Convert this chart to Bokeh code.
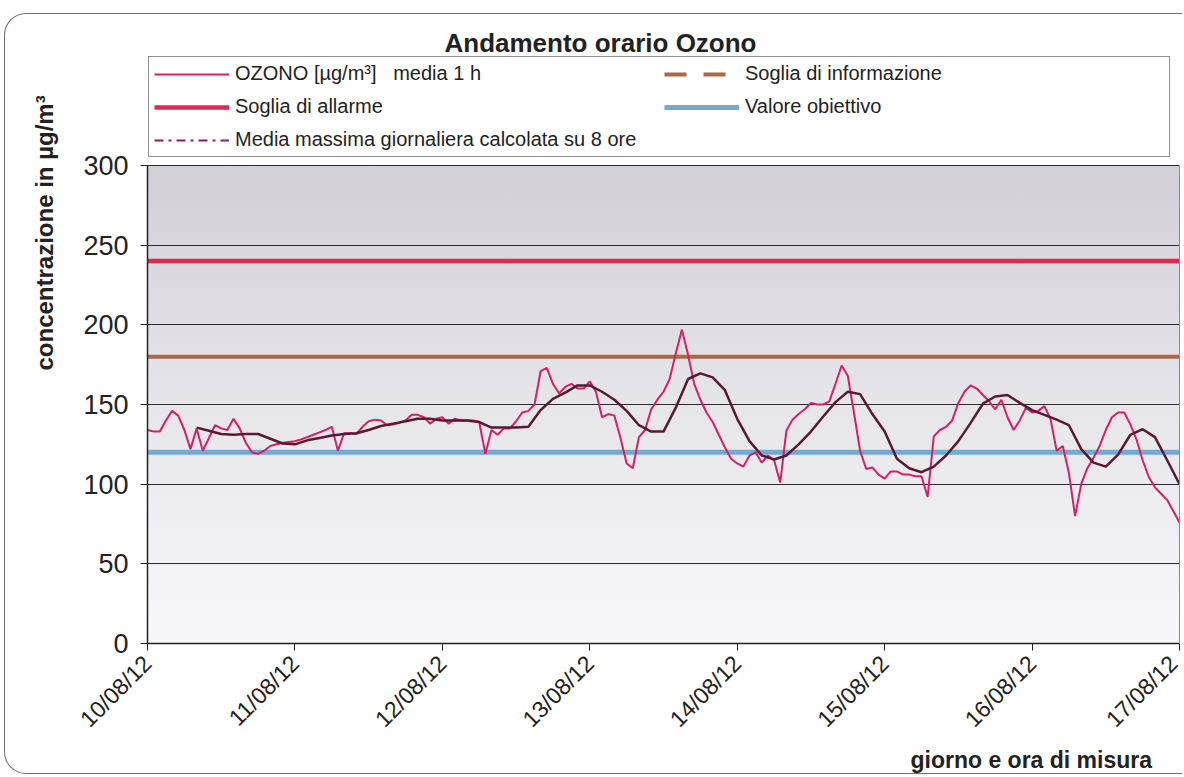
import math
from bokeh.plotting import figure
from bokeh.models import Range1d, FixedTicker, Legend, LegendItem, Title, Label, LinearAxis
from bokeh.embed import file_html
from bokeh.resources import INLINE

# ---------------- data ----------------
date_labels = ["10/08/12", "11/08/12", "12/08/12", "13/08/12",
               "14/08/12", "15/08/12", "16/08/12", "17/08/12"]
date_ticks = [0, 24, 48, 72, 96, 120, 144, 168]   # hours since 10/08/12 00:00

# hourly ozone (µg/m³), one list per day
ozono_10 = [134, 133, 133, 140, 146, 143, 134, 122, 135, 121, 129, 137,
            135, 134, 141, 135, 126, 120, 119, 121, 124, 125, 126, 126.5]
ozono_11 = [127, 128, 129.5, 131, 132.5, 134, 136, 121, 132, 132, 131.5, 136,
            139.5, 140.5, 140, 137, 137.5, 138.5, 140, 143.5, 143.5, 142, 138, 141]
ozono_12 = [142, 138, 141, 140, 140, 140, 139, 119, 134, 131, 135, 135,
            139.5, 145, 146, 150, 171, 173, 163, 157, 161, 163, 160, 160]
ozono_13 = [164.5, 158, 142, 144, 143, 129, 113, 110, 129.5, 134, 147, 153,
            158, 166, 182, 197, 181, 163, 153, 145, 139, 131, 123, 116]
ozono_14 = [113, 111, 118, 120, 113.5, 118, 115, 101, 133.5, 140.5, 144, 147,
            151, 150, 150, 152, 163, 174.5, 168, 145, 121, 109.5, 110.5, 106]
ozono_15 = [103.5, 108, 108, 106, 106, 105, 105, 92, 130, 134, 136, 140,
            151, 158, 162, 160, 156, 152, 147, 153, 142, 134, 140, 148]
ozono_16 = [145, 146, 149, 141, 121, 124, 107, 80, 100, 110, 116.5, 124,
            134, 142, 145, 145, 137.5, 128, 115, 104.5, 98, 94, 90, 83]
ozono_17 = [76]
ozono = ozono_10 + ozono_11 + ozono_12 + ozono_13 + ozono_14 + ozono_15 + ozono_16 + ozono_17
ore = list(range(len(ozono)))

# 8-hour running mean, read every 2 hours from hour 8
media8h_ore = list(range(8, 169, 2))
media8h = [135.5, 133.5, 131.5, 131, 131.5, 131.5, 128.5, 125.5,
           125, 127.5, 129, 130.5, 131.5, 132, 134, 136.5, 138, 139.5, 141, 141,
           140, 140, 140, 139, 135.5, 135.5, 135.5, 136, 146.5, 153.5, 157.5, 162,
           162, 158, 153, 146, 137, 133, 133, 148, 166, 169.5, 167, 159,
           141, 127, 118, 115.5, 118, 125, 133, 142.5, 151.5, 158, 156.5, 144,
           133, 116, 110, 107.5, 111, 118, 127, 138.5, 150.5, 155, 156, 151,
           146.5, 143.5, 140.5, 137, 122, 113.5, 111, 118.5, 131, 134.5, 129.5, 115,
           100]

soglia_allarme = [240] * len(ore)
soglia_informazione = [180] * len(ore)
valore_obiettivo = [120] * len(ore)

y_ticks = [0, 50, 100, 150, 200, 250, 300]

# ---------------- layout ----------------
FONT = "Liberation Sans"
TXT = "#222222"
W, H = 1178, 761
BL, BR, BT, BB = 142, 4, 8, 132            # borders around the plotting frame
FRAME_H = H - BT - BB
AXIS_H = 478                                # pixel height of the 0..300 scale
y_top = 300 * FRAME_H / AXIS_H              # frame also hosts title + legend above 300

p = figure(width=W, height=H, output_backend="svg", toolbar_location=None,
           x_range=Range1d(0, 168), y_range=Range1d(0, y_top),
           min_border_left=BL, min_border_right=BR, min_border_top=BT,
           min_border_bottom=BB, title=None)

p.background_fill_color = None
p.border_fill_color = None
p.outline_line_color = None
p.styles = {
    "margin-top": "13px",
    "margin-left": "4px",
    "border-top": "1.5px solid #707070",
    "border-left": "1.5px solid #707070",
    "border-bottom": "1.5px solid #707070",
    "border-radius": "22px 0 0 22px",
    "background-color": "white",
    "background-image": "linear-gradient(to bottom, #d2cfd6, #e6e5ea 50%, #f8f8fb)",
    "background-repeat": "no-repeat",
    "background-position": f"{BL}px {BT + FRAME_H - AXIS_H}px",
    "background-size": f"{W - BL - BR}px {AXIS_H}px",
}

# threshold lines
r_all = p.line(ore, soglia_allarme, line_color="#e2264f", line_width=4.5)
r_inf = p.line(ore, soglia_informazione, line_color="#a8684a", line_width=4)
r_obi = p.line(ore, valore_obiettivo, line_color="#6fabd6", line_width=5)
# ozone
r_oz = p.line(ore, ozono, line_color="#d9205f", line_width=2)
r_m8 = p.line(media8h_ore, media8h, line_color="#5a1832", line_width=2.5)

# legend-only glyphs (no visible data)
nan = float("nan")
leg_inf = p.line([nan, nan], [nan, nan], line_color="#a8684a", line_width=4,
                 line_dash="22 17")
leg_m8 = p.line([nan, nan], [nan, nan], line_color="#8a1f5c", line_width=2,
                line_dash="9 5 3 5")

# axes
p.xgrid.visible = False
p.ygrid.grid_line_color = "#2b2b2b"
p.ygrid.grid_line_width = 1
p.ygrid.ticker = FixedTicker(ticks=y_ticks)

p.yaxis.bounds = (0, 300)
p.yaxis.ticker = FixedTicker(ticks=y_ticks)
p.yaxis.major_label_text_font = FONT
p.yaxis.major_label_text_font_size = "27px"
p.yaxis.major_label_text_color = TXT
p.yaxis.major_tick_out = 7
p.yaxis.major_tick_in = 0
p.yaxis.minor_tick_out = 0
p.yaxis.minor_tick_in = 0
p.yaxis.major_label_standoff = 12
p.yaxis.axis_line_color = TXT
p.yaxis.axis_line_width = 1.5
p.yaxis.major_tick_line_color = TXT

# thin right border of the plotting area
right_axis = LinearAxis(bounds=(0, 300), ticker=FixedTicker(ticks=[]),
                        major_tick_out=0, major_tick_in=0, minor_tick_out=0,
                        minor_tick_in=0, major_label_standoff=0,
                        major_label_text_font_size="0px",
                        axis_line_color="#8a8a8a", axis_line_width=1)
p.add_layout(right_axis, "right")

p.xaxis.ticker = FixedTicker(ticks=date_ticks)
p.xaxis.major_label_overrides = {t: l for t, l in zip(date_ticks, date_labels)}
p.xaxis.major_label_orientation = math.pi / 4
p.xaxis.major_label_text_font = FONT
p.xaxis.major_label_text_font_size = "23px"
p.xaxis.major_label_text_color = TXT
p.xaxis.major_tick_out = 7
p.xaxis.major_tick_in = 0
p.xaxis.minor_tick_out = 0
p.xaxis.minor_tick_in = 0
p.xaxis.major_label_standoff = 9
p.xaxis.axis_line_color = TXT
p.xaxis.axis_line_width = 1.5
p.xaxis.major_tick_line_color = TXT

# legend (inside the tall frame, above the 300 line)
legend = Legend(items=[
    LegendItem(label="OZONO [µg/m³]   media 1 h", renderers=[r_oz]),
    LegendItem(label="Soglia di informazione", renderers=[leg_inf]),
    LegendItem(label="Soglia di allarme", renderers=[r_all]),
    LegendItem(label="Valore obiettivo", renderers=[r_obi]),
    LegendItem(label="Media massima giornaliera calcolata su 8 ore", renderers=[leg_m8]),
], location=(1, 486), orientation="horizontal", ncols=2,
    glyph_width=75, glyph_height=20, label_height=20, label_width=419,
    label_standoff=6, spacing=10, padding=5, margin=0,
    label_text_font=FONT, label_text_font_size="20px", label_text_color=TXT,
    border_line_color=TXT, border_line_width=1.2,
    background_fill_color="white", background_fill_alpha=1.0)
p.add_layout(legend, "center")

# title
p.add_layout(Label(x=453, y=601, x_units="screen", y_units="screen",
                   text="Andamento orario Ozono", text_font=FONT,
                   text_font_size="26px", text_font_style="bold",
                   text_align="center", text_baseline="alphabetic", text_color=TXT))
# axis titles
p.add_layout(Title(text="concentrazione in µg/m³", align="left", offset=273,
                   standoff=46, text_font=FONT, text_font_size="24px",
                   text_font_style="bold", text_color=TXT), "left")
p.add_layout(Title(text="giorno e ora di misura", align="left", offset=763,
                   standoff=0, text_font=FONT, text_font_size="23px",
                   text_font_style="bold", text_color=TXT), "below")

open("out.html", "w").write(file_html(p, INLINE))
